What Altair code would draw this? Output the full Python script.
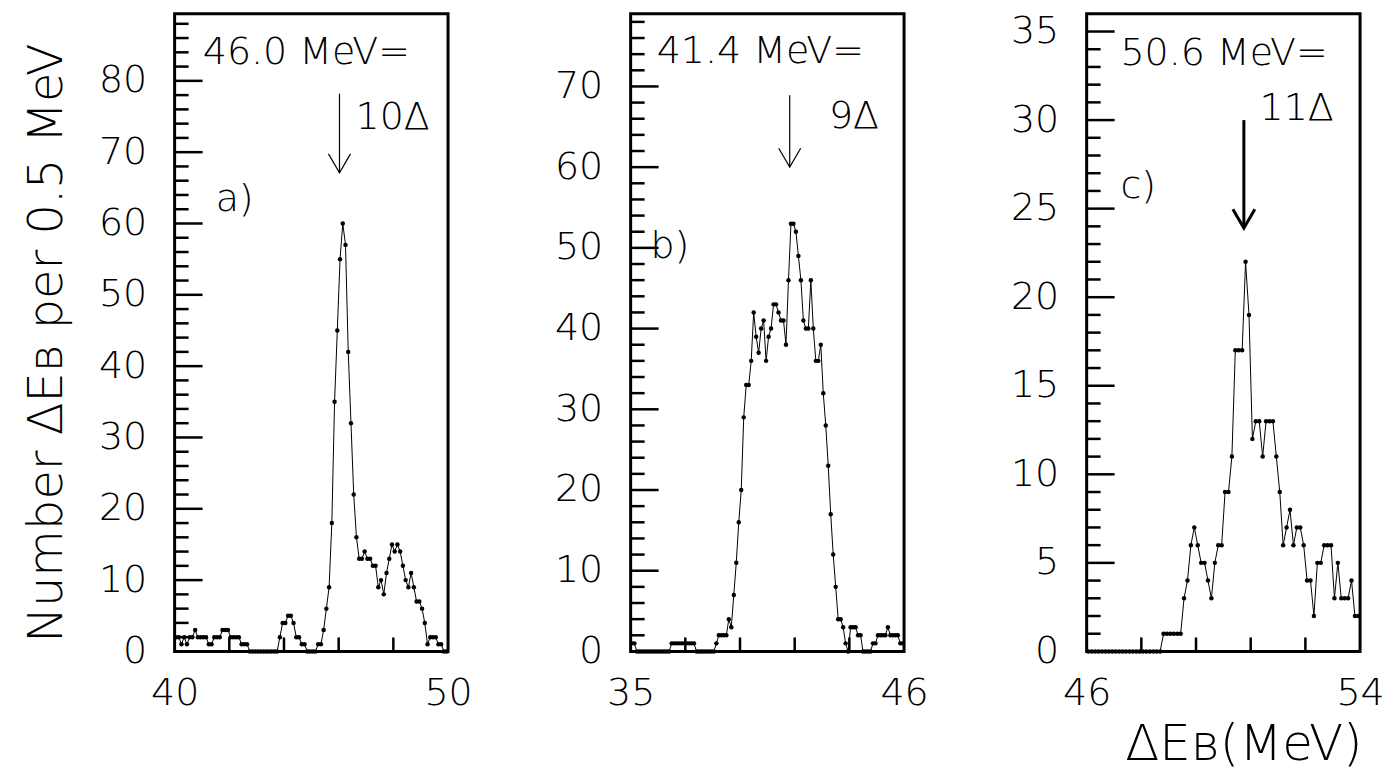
import altair as alt
import pandas as pd

FONT = "DejaVu Sans"
FW = 200  # light weight if available

# ---------------- data (counts per 0.5 MeV, sampled every 0.1 MeV) ----------------
a_start, a_step = 40.0, 0.1
a_counts = [2, 2, 1, 2, 1, 2, 2, 3, 2, 2,
            2, 2, 1, 1, 2, 2, 2, 3, 3, 3,
            2, 2, 2, 2, 1, 1, 1, 0, 0, 0,
            0, 0, 0, 0, 0, 0, 0, 0, 2, 4,
            4, 5, 5, 4, 2, 2, 1, 1, 0, 0,
            0, 0, 1, 1, 3, 6, 9, 18, 35, 45,
            55, 60, 57, 42, 32, 22, 16, 13, 13, 14,
            13, 13, 12, 12, 9, 10, 8, 11, 13, 15,
            14, 15, 14, 12, 10, 9, 11, 9, 7, 7,
            6, 4, 1, 2, 2, 2, 1, 1, 0, 0]

b_start, b_step = 35.0, 0.1
b_counts = [1, 1, 0, 0, 0, 0, 0, 0, 0, 0,
            0, 0, 0, 0, 0, 0, 1, 1, 1, 1,
            1, 1, 1, 1, 1, 1, 0, 0, 0, 0,
            0, 0, 0, 0, 1, 2, 2, 2, 2, 4,
            3, 7, 11, 16, 20, 29, 33, 33, 36, 42,
            39, 37, 40, 41, 36, 39, 40, 43, 43, 42,
            41, 41, 38, 46, 53, 53, 52, 49, 46, 41,
            40, 40, 46, 40, 36, 36, 38, 32, 28, 23,
            17, 12, 8, 4, 4, 3, 1, 0, 3, 3,
            3, 2, 2, 0, 0, 0, 0, 1, 1, 2,
            2, 2, 2, 3, 2, 2, 2, 2, 1, 1]

c_start, c_step = 46.0, 0.1
c_counts = [0, 0, 0, 0, 0, 0, 0, 0, 0, 0,
            0, 0, 0, 0, 0, 0, 0, 0, 0, 0,
            0, 0, 1, 1, 1, 1, 1, 1, 3, 4,
            6, 7, 6, 5, 5, 4, 3, 5, 6, 6,
            9, 9, 11, 17, 17, 17, 22, 19, 12, 13,
            13, 11, 13, 13, 13, 11, 9, 6, 7, 8,
            6, 7, 7, 6, 4, 4, 2, 5, 5, 6,
            6, 6, 3, 5, 3, 3, 3, 4, 2, 2]

# axis ranges and tick values
a_xdom, a_ymax = [40, 50], 89.4
b_xdom, b_ymax = [35, 46], 79.0
c_xdom, c_ymax = [46, 54], 36.0

a_xlabels, b_xlabels, c_xlabels = [40, 50], [35, 46], [46, 54]
a_xticks = [42, 44, 46, 48]
b_xticks = [37.2, 39.4, 41.6, 43.8]
c_xticks = [47.6, 49.2, 50.8, 52.4]

a_ylabels = [0, 10, 20, 30, 40, 50, 60, 70, 80]
a_yminor = [v for v in range(2, 89, 2) if v % 10 != 0]
b_ylabels = [0, 10, 20, 30, 40, 50, 60, 70]
b_yminor = [v for v in range(2, 79, 2) if v % 10 != 0]
c_ylabels = [0, 5, 10, 15, 20, 25, 30, 35]
c_yminor = [v for v in range(1, 36) if v % 5 != 0]

# annotations (text, x, y) in data units
a_texts = [("46.0 MeV=", 41.03, 82.4), ("10Δ", 46.62, 73.3), ("a)", 41.5, 61.7)]
b_texts = [("41.4 MeV=", 36.05, 72.9), ("9Δ", 42.98, 64.9), ("b)", 35.8, 48.8)]
c_texts = [("50.6 MeV=", 46.99, 33.1), ("11Δ", 51.06, 30.0), ("c)", 46.99, 25.6)]

# arrows: x, top, tip
a_arrow = (46.03, 78.2, 67.1)
b_arrow = (41.4, 68.9, 60.0)
c_arrow = (50.6, 30.0, 23.9)

W, H = 274, 639
HEAD = "M-0.58,-1L0,0L0.58,-1"


def make_panel(start, step, counts, xdom, ymax, xlabels, xticks, ylabels, yminor,
               texts, arrow, arrow_w, ytitle=None, xtitle=None):
    df = pd.DataFrame({"e": [start + step * (i + 0.5) for i in range(len(counts))],
                       "n": counts})
    xs = alt.Scale(domain=xdom, nice=False, zero=False)
    ys = alt.Scale(domain=[0, ymax], nice=False, zero=True)

    xaxis_kw = dict(values=xlabels, ticks=False, tickSize=0, domain=False, grid=False,
                    labelFont=FONT, labelFontSize=38, labelFontWeight=FW,
                    labelColor="black", labelPadding=23, format="d",
                    labelFlush=False, labelOverlap=False)
    if xtitle:
        xaxis_kw.update(title=xtitle, titleFont=FONT, titleFontSize=50,
                        titleFontWeight=FW, titleColor="black",
                        titleX=W + 2, titleY=108, titleAlign="right",
                        titleBaseline="alphabetic", titleAnchor="end")
    else:
        xaxis_kw.update(title=None)

    yaxis_kw = dict(values=ylabels, ticks=False, tickSize=0, domain=False, grid=False,
                    labelFont=FONT, labelFontSize=38, labelFontWeight=FW,
                    labelColor="black", labelPadding=28, format="d",
                    labelFlush=False, labelOverlap=False)
    if ytitle:
        yaxis_kw.update(title=ytitle, titleFont=FONT, titleFontSize=48,
                        titleFontWeight=FW, titleColor="black",
                        titleAngle=270, titleX=-113, titleY=H / 2 + 10,
                        titleAlign="center", titleBaseline="alphabetic")
    else:
        yaxis_kw.update(title=None)

    xax = alt.Axis(**xaxis_kw)
    yax = alt.Axis(**yaxis_kw)

    line = alt.Chart(df).mark_line(color="black", strokeWidth=1).encode(
        x=alt.X("e:Q", scale=xs, axis=xax),
        y=alt.Y("n:Q", scale=ys, axis=yax),
    )
    pts = alt.Chart(df).mark_circle(color="black", size=20, opacity=1).encode(
        x=alt.X("e:Q", scale=xs, axis=xax),
        y=alt.Y("n:Q", scale=ys, axis=yax),
    )
    ymaj = alt.Chart(pd.DataFrame({"v": [v for v in ylabels if v > 0]})).mark_rule(
        color="black", strokeWidth=2.5).encode(
        y=alt.Y("v:Q", scale=ys, axis=yax), x=alt.value(0), x2=alt.value(28))
    ymin = alt.Chart(pd.DataFrame({"v": yminor})).mark_rule(
        color="black", strokeWidth=2.5).encode(
        y=alt.Y("v:Q", scale=ys, axis=yax), x=alt.value(0), x2=alt.value(14))
    xt = alt.Chart(pd.DataFrame({"v": xticks})).mark_rule(
        color="black", strokeWidth=2.5).encode(
        x=alt.X("v:Q", scale=xs, axis=xax), y=alt.value(H), y2=alt.value(H - 14))
    tdf = pd.DataFrame({"t": [t[0] for t in texts], "x": [t[1] for t in texts],
                        "y": [t[2] for t in texts]})
    txt = alt.Chart(tdf).mark_text(align="left", baseline="alphabetic", font=FONT,
                                   fontSize=38, fontWeight=FW, color="black").encode(
        x=alt.X("x:Q", scale=xs, axis=xax), y=alt.Y("y:Q", scale=ys, axis=yax),
        text="t:N")
    adf = pd.DataFrame({"x": [arrow[0]], "y": [arrow[1]], "y2": [arrow[2]]})
    shaft = alt.Chart(adf).mark_rule(color="black", strokeWidth=arrow_w).encode(
        x=alt.X("x:Q", scale=xs, axis=xax), y=alt.Y("y:Q", scale=ys, axis=yax),
        y2="y2:Q")
    head = alt.Chart(adf).mark_point(shape=HEAD, size=1444, filled=False,
                                     color="black", strokeWidth=arrow_w,
                                     opacity=1).encode(
        x=alt.X("x:Q", scale=xs, axis=xax), y=alt.Y("y2:Q", scale=ys, axis=yax))
    return alt.layer(line, pts, ymaj, ymin, xt, txt, shaft, head).properties(
        width=W, height=H)


pa = make_panel(a_start, a_step, a_counts, a_xdom, a_ymax, a_xlabels, a_xticks,
                a_ylabels, a_yminor, a_texts, a_arrow, 1.2,
                ytitle="Number ΔEʙ per 0.5 MeV")
pb = make_panel(b_start, b_step, b_counts, b_xdom, b_ymax, b_xlabels, b_xticks,
                b_ylabels, b_yminor, b_texts, b_arrow, 1.2)
pc = make_panel(c_start, c_step, c_counts, c_xdom, c_ymax, c_xlabels, c_xticks,
                c_ylabels, c_yminor, c_texts, c_arrow, 3, xtitle="ΔEʙ(MeV)")

chart = alt.hconcat(pa, pb, pc, spacing=183, bounds="flush").properties(
    padding={"left": 22, "top": 10, "right": 5, "bottom": 5},
    background="white",
).configure_view(stroke="black", strokeWidth=3)

chart.save("out.html", embed_options={"renderer": "svg", "actions": False})
